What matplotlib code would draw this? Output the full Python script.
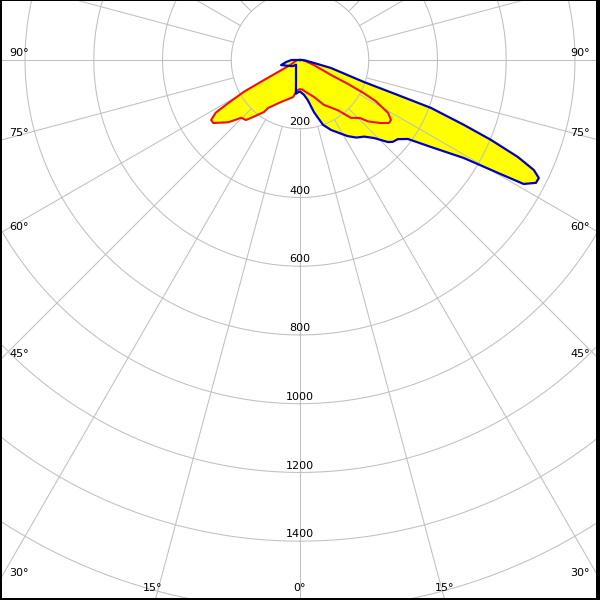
import numpy as np
import matplotlib
matplotlib.use("Agg")
import matplotlib.pyplot as plt
from matplotlib.patches import Rectangle

# ---- data (gamma angle from nadir in degrees, right positive; intensity cd/klm) ----
red_angles = [-180, -100, -90, -75, -65, -62, -61, -60.5, -59, -58, -56, -54, -49, -45.5,
              -42, -39.5, -34.7, -33.7, -24.3, -10.7, -7, -4, 0, 4, 5.7, 10.6, 20.7, 28,
              37, 41.3, 46, 47, 48, 52, 54.7, 56.6, 59, 61.5, 62.5, 63.5, 64.2, 70, 80,
              90, 100, 180]
red_values = [0, 0, 8, 15, 25, 45, 110, 186, 245, 289, 312, 312, 276, 240,
              235, 215, 184, 168, 134, 110, 94, 87, 85, 86, 88, 95, 115, 148,
              183, 224, 243, 255, 267, 298, 317, 317, 299, 250, 210, 155, 100, 43, 15,
              8, 0, 0]

blue_angles = [-180, -100, -90, -82, -75, -60, -49, -40, -30, -20, -15, -10, -7, -4, -2,
               0, 3, 6.5, 11, 15, 19.5, 24, 28, 32, 36, 40, 43.5, 47, 48.6, 51, 53.8,
               56.4, 59.1, 60.3, 61, 62.5, 63.7, 64.8, 66, 67.3, 68.4, 69.9, 70.3, 71,
               75.5, 78, 85, 90, 100, 180]
blue_values = [0, 0, 25, 40, 57, 35, 27, 18, 23, 34, 45, 67, 99, 95, 93,
               92, 96, 102, 119, 157, 200, 223, 240, 261, 279, 291, 313, 350, 360, 366, 389,
               457, 555, 663, 744, 774, 775, 752, 694, 602, 513, 406, 303, 197,
               93, 42, 15, 5, 0, 0]

ring_values = [200, 400, 600, 800, 1000, 1200, 1400, 1600, 1800]
ring_labels = ["200", "400", "600", "800", "1000", "1200", "1400"]
spoke_angles = list(range(0, 360, 15))

# ---- layout ----
W = H = 600
cx, cy = 300, 60          # pole position in pixels (from top-left)
rmax = 1800
scale = 0.3437            # px per cd
R = rmax * scale

fig = plt.figure(figsize=(6, 6), dpi=100)
fig.patch.set_facecolor("white")
ax = fig.add_axes([(cx - R) / W, (H - cy - R) / H, 2 * R / W, 2 * R / H], projection="polar")
ax.set_theta_zero_location("S")
ax.set_theta_direction(1)
ax.set_ylim(0, rmax)
ax.grid(False)
ax.set_xticks([])
ax.set_yticks([])
ax.spines["polar"].set_visible(False)
ax.patch.set_facecolor("white")

grid_c = "#c0c0c0"
th = np.linspace(0, 2 * np.pi, 720)
for rv in ring_values:
    ax.plot(th, np.full_like(th, rv), color=grid_c, lw=0.75, zorder=3)
for a in spoke_angles:
    ax.plot([np.radians(a)] * 2, [200, rmax], color=grid_c, lw=0.75, zorder=3)

rt = np.radians(red_angles)
bt = np.radians(blue_angles)
ax.fill(rt, red_values, color="#ffff00", zorder=2, lw=0)
ax.fill(bt, blue_values, color="#ffff00", zorder=2, lw=0)
ax.plot(rt, red_values, color="#ee1111", lw=1.5, zorder=4)
ax.plot(bt, blue_values, color="#0000c0", lw=1.6, zorder=5)

for rv, lab in zip(ring_values, ring_labels):
    ax.text(0, rv - 20, lab, ha="center", va="center", fontsize=8, color="black", zorder=6)

def ftext(x, y, s, ha):
    fig.text(x / W, 1 - y / H, s, ha=ha, va="center", fontsize=8, color="black")

side_labels = [("90°", 53), ("75°", 133), ("60°", 227), ("45°", 354), ("30°", 573)]
for s, y in side_labels:
    ftext(9, y, s, "left")
    ftext(590, y, s, "right")
for s, x in [("15°", 153), ("0°", 299), ("15°", 445)]:
    ftext(x, 588, s, "center")

# black frame (uneven widths like the reference image)
def band(x0, y0, w, h):
    fig.patches.append(Rectangle((x0 / W, 1 - (y0 + h) / H), w / W, h / H,
                                 transform=fig.transFigure, facecolor="black",
                                 edgecolor="none", zorder=10))
band(0, 0, 600, 1)      # top
band(0, 598, 600, 2)    # bottom
band(0, 0, 2, 600)      # left
band(596, 0, 4, 600)    # right

fig.savefig("out.png", dpi=100)
